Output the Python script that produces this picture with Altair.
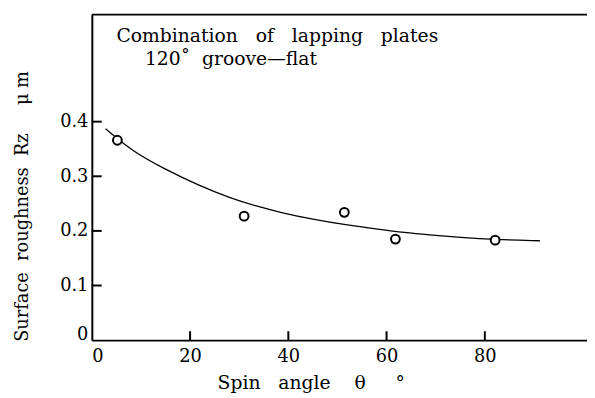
import altair as alt
import pandas as pd

# measured data points (spin angle in degrees, Rz in micrometres)
spin_angle = [5.2, 31.0, 51.4, 61.8, 82.1]
roughness = [0.366, 0.227, 0.234, 0.185, 0.183]

# fitted trend curve
curve_x = [2.8, 8.2, 14.9, 21.6, 28.2, 33.6, 38.3, 45.0, 51.7, 58.4, 63.7, 68.4, 75.1, 81.8, 91.2]
curve_y = [0.387, 0.346, 0.313, 0.284, 0.260, 0.245, 0.234, 0.221, 0.211, 0.203, 0.197, 0.193, 0.188, 0.184, 0.182]

x_tick_values = [20, 40, 60, 80]
y_tick_values = [0.1, 0.2, 0.3, 0.4]
x_label_values = [0, 20, 40, 60, 80]
y_label_values = [0, 0.1, 0.2, 0.3, 0.4]

NB = "\u00a0"
note_lines = ["Combination" + NB * 3 + "of" + NB * 3 + "lapping" + NB * 3 + "plates",
              "120\u02da" + NB * 2 + "groove\u2014flat"]
note_x = [5.0, 10.8]
note_y = [0.545, 0.503]

X_MAX = 100.8
Y_MAX = 0.596
FONT = "DejaVu Serif"

pts = pd.DataFrame({"x": spin_angle, "y": roughness})
crv = pd.DataFrame({"x": curve_x, "y": curve_y})
xt = pd.DataFrame({"x": x_tick_values})
yt = pd.DataFrame({"y": y_tick_values})
notes = pd.DataFrame({"t": note_lines, "x": note_x, "y": note_y})
top = pd.DataFrame({"x": [0], "x2": [X_MAX], "y": [Y_MAX]})

xscale = alt.Scale(domain=[0, X_MAX], nice=False, zero=False)
yscale = alt.Scale(domain=[0, Y_MAX], nice=False, zero=False)

xaxis = alt.Axis(
    values=x_label_values, format="d", tickSize=0, labelPadding=8,
    labelFont=FONT, labelFontSize=18, labelColor="black",
    labelBaseline="top", domainColor="black", domainWidth=2, grid=False,
    title="Spin" + NB * 3 + "angle" + NB * 4 + "\u03b8" + NB * 5 + "\u00b0",
    titleFont=FONT, titleFontSize=19, titleFontWeight="normal", titleColor="black",
    titleAlign="left", titleAnchor="start", titleX=127, titleY=34, titleBaseline="top",
)
yaxis = alt.Axis(
    values=y_label_values, tickSize=0, labelPadding=4,
    labelExpr="datum.value == 0 ? '0' : format(datum.value, '.1f')",
    labelOffset={"condition": {"test": "datum.value == 0", "value": -6}, "value": 0},
    labelFont=FONT, labelFontSize=18, labelColor="black",
    domainColor="black", domainWidth=2, grid=False,
    title="Surface" + NB * 2 + "roughness" + NB * 2 + "Rz" + NB * 5 + "\u03bc" + NB + "m",
    titleFont=FONT, titleFontSize=18, titleFontWeight="normal",
    titleColor="black", titleAngle=270,
    titleAlign="center", titleBaseline="middle", titleX=-70, titleY=194,
)

curve = alt.Chart(crv).mark_line(color="black", strokeWidth=1.3, interpolate="basis").encode(
    x=alt.X("x:Q", scale=xscale, axis=xaxis),
    y=alt.Y("y:Q", scale=yscale, axis=yaxis),
)

points = alt.Chart(pts).mark_point(
    shape="circle", size=80, filled=False, fill="white", fillOpacity=1,
    stroke="black", strokeWidth=2, opacity=1
).encode(x="x:Q", y="y:Q")

xticks = alt.Chart(xt).mark_rule(color="black", strokeWidth=2).encode(
    x="x:Q", y=alt.value(330), y2=alt.value(321)
)
yticks = alt.Chart(yt).mark_rule(color="black", strokeWidth=2).encode(
    y="y:Q", x=alt.value(0), x2=alt.value(10)
)
topline = alt.Chart(top).mark_rule(color="black", strokeWidth=2).encode(
    x="x:Q", x2="x2:Q", y="y:Q"
)
text = alt.Chart(notes).mark_text(
    font=FONT, fontSize=19, align="left", baseline="alphabetic", color="black"
).encode(x="x:Q", y="y:Q", text="t:N")

chart = alt.layer(curve, points, xticks, yticks, topline, text).properties(
    width=502, height=330,
    autosize=alt.AutoSizeParams(type="none"),
    padding={"left": 85, "top": 4, "right": 0, "bottom": 60},
).configure_view(stroke=None)

chart.save("out.html", embed_options={"renderer": "svg", "actions": False})
